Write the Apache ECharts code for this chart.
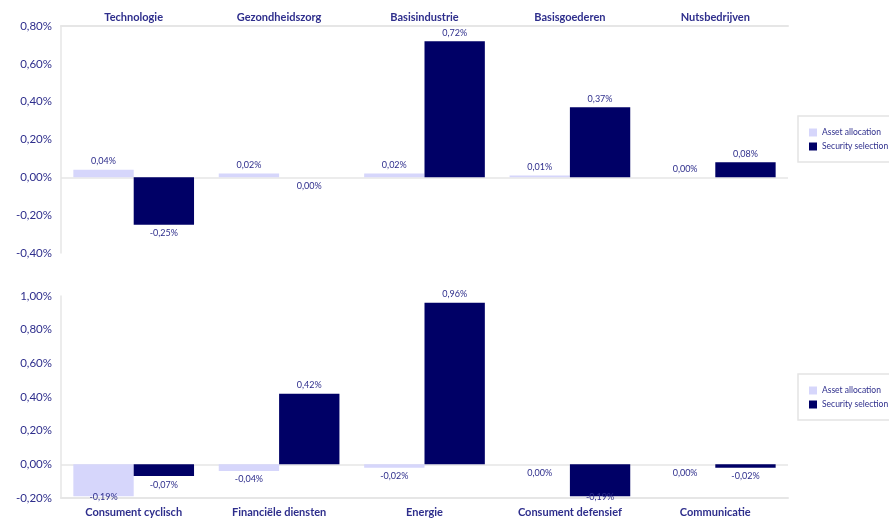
<!DOCTYPE html>
<html>
<head>
<meta charset="utf-8">
<script src="https://cdn.jsdelivr.net/npm/echarts@6/dist/echarts.min.js"></script>
<style>
  html, body { margin: 0; padding: 0; background: #ffffff; }
  #chart { width: 889px; height: 523px; }
</style>
</head>
<body>
<div id="chart"></div>
<script>
// Sector attribution, in percent
const topSectors = ['Technologie', 'Gezondheidszorg', 'Basisindustrie', 'Basisgoederen', 'Nutsbedrijven'];
const topAssetAllocation = [0.04, 0.02, 0.02, 0.01, 0.00];
const topSecuritySelection = [-0.25, 0.00, 0.72, 0.37, 0.08];

const bottomSectors = ['Consument cyclisch', 'Financiële diensten', 'Energie', 'Consument defensief', 'Communicatie'];
const bottomAssetAllocation = [-0.19, -0.04, -0.02, 0.00, 0.00];
const bottomSecuritySelection = [-0.07, 0.42, 0.96, -0.19, -0.02];

const topTicks = { min: -0.4, max: 0.8, interval: 0.2 };
const bottomTicks = { min: -0.2, max: 1.0, interval: 0.2 };

const seriesNames = ['Asset allocation', 'Security selection'];

const FONT = 'Lato, "Open Sans", sans-serif';
const TEXT = '#2e2e8c';
const LIGHT = '#d6d6fb';
const NAVY = '#000066';
const RULE = '#e6e6e6';

const fmt = v => v.toFixed(2).replace('.', ',') + '%';

// zero-valued bars whose label sits under the baseline
const zeroBelow = {
  'top-Security selection': [1],
  'bottom-Asset allocation': [3, 4]
};

function buildData(values, key, axisMin) {
  const below = zeroBelow[key] || [];
  return values.map((v, i) => {
    const under = v < 0 || (v === 0 && below.includes(i));
    const item = {
      value: v,
      label: { position: under ? 'bottom' : 'top', distance: 4 }
    };
    // keep labels of bars reaching the lower edge inside the plot
    if (under && v - 0.04 < axisMin) item.label.offset = [0, -8];
    return item;
  });
}

function barSeries(name, values, idx, key, axisMin, color, withZeroLine) {
  const s = {
    name: name,
    type: 'bar',
    xAxisIndex: idx,
    yAxisIndex: idx,
    barGap: '0%',
    barCategoryGap: '17%',
    itemStyle: { color: color },
    label: {
      show: true,
      formatter: p => fmt(p.value),
      fontFamily: FONT,
      fontSize: 9,
      color: TEXT
    },
    data: buildData(values, key, axisMin),
    z: 3
  };
  if (withZeroLine) {
    s.markLine = {
      silent: true,
      symbol: 'none',
      label: { show: false },
      lineStyle: { color: RULE, width: 1.5, type: 'solid' },
      data: [{ yAxis: 0 }],
      z: 1
    };
  }
  return s;
}

function yAxisFor(idx, ticks) {
  return {
    type: 'value',
    gridIndex: idx,
    min: ticks.min,
    max: ticks.max,
    interval: ticks.interval,
    axisLine: { show: true, lineStyle: { color: RULE, width: 1.5 } },
    axisTick: { show: false },
    splitLine: { show: false },
    axisLabel: {
      formatter: v => fmt(v),
      fontFamily: FONT,
      fontSize: 11.5,
      color: TEXT,
      margin: 9
    }
  };
}

function xAxisFor(idx, cats, position) {
  return {
    type: 'category',
    gridIndex: idx,
    data: cats,
    position: position,
    axisLine: { show: true, onZero: false, lineStyle: { color: RULE, width: 2 } },
    axisTick: { show: false },
    axisLabel: {
      fontFamily: FONT,
      fontSize: 11,
      fontWeight: 'bold',
      color: TEXT,
      margin: position === 'top' ? 3 : 9,
      interval: 0
    }
  };
}

function legendFor(top) {
  return {
    data: seriesNames,
    orient: 'vertical',
    left: 798,
    top: top,
    padding: [12, 20, 11, 11],
    itemWidth: 8,
    itemHeight: 8,
    itemGap: 5,
    borderColor: '#e4e4e4',
    borderWidth: 1.5,
    icon: 'rect',
    textStyle: { fontFamily: FONT, fontSize: 8.5, color: TEXT }
  };
}

const option = {
  animation: false,
  backgroundColor: '#ffffff',
  legend: [legendFor(116), legendFor(374)],
  grid: [
    { left: 61, right: 101, top: 26, height: 227 },
    { left: 61, right: 101, top: 296, height: 202 }
  ],
  xAxis: [xAxisFor(0, topSectors, 'top'), xAxisFor(1, bottomSectors, 'bottom')],
  yAxis: [yAxisFor(0, topTicks), yAxisFor(1, bottomTicks)],
  series: [
    barSeries(seriesNames[0], topAssetAllocation, 0, 'top-Asset allocation', topTicks.min, LIGHT, true),
    barSeries(seriesNames[1], topSecuritySelection, 0, 'top-Security selection', topTicks.min, NAVY, false),
    barSeries(seriesNames[0], bottomAssetAllocation, 1, 'bottom-Asset allocation', bottomTicks.min, LIGHT, true),
    barSeries(seriesNames[1], bottomSecuritySelection, 1, 'bottom-Security selection', bottomTicks.min, NAVY, false)
  ]
};

echarts.init(document.getElementById('chart'), null, { renderer: 'canvas' }).setOption(option);
</script>
</body>
</html>
